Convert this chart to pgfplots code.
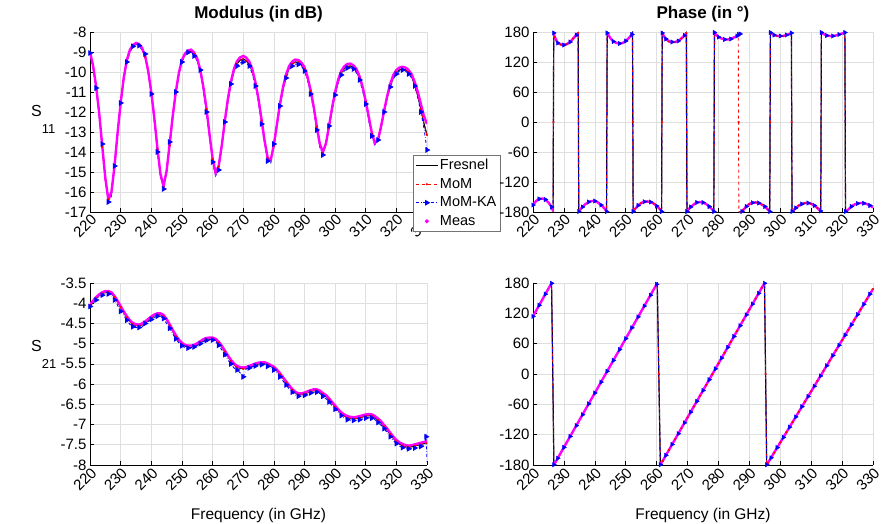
\documentclass[border=0pt]{standalone}
\usepackage{fontspec}
\setmainfont{Liberation Sans}
\usepackage{pgfplots}
\usepackage{pgfplotstable}
\pgfplotsset{compat=1.18}
\definecolor{mmag}{RGB}{255,0,255}
\definecolor{mblue}{RGB}{0,0,255}
\definecolor{mred}{RGB}{255,0,0}
\definecolor{mgrid}{RGB}{223,223,223}

% S11 modulus (dB)
\pgfplotstableread{
f fres momka meas
220 -9.03 -9.05 -9.00
221 -9.70 -9.75 -9.68
222 -10.75 -10.80 -10.72
223 -12.10 -12.20 -12.05
224 -13.74 -13.60 -13.70
225 -15.33 -15.35 -15.30
226 -16.36 -16.50 -16.40
227 -16.04 -16.20 -16.00
228 -14.74 -14.70 -14.70
229 -13.10 -13.00 -13.05
230 -11.59 -11.55 -11.55
231 -10.38 -10.40 -10.30
232 -9.48 -9.50 -9.42
233 -8.96 -9.05 -8.90
234 -8.70 -8.72 -8.65
235 -8.60 -8.62 -8.55
236 -8.65 -8.68 -8.60
237 -8.85 -8.90 -8.80
238 -9.25 -9.10 -9.20
239 -10.00 -10.05 -9.95
240 -11.03 -11.10 -11.00
241 -12.35 -12.50 -12.30
242 -13.85 -14.00 -13.80
243 -15.15 -15.20 -15.10
244 -15.73 -15.85 -15.70
245 -14.98 -14.90 -14.95
246 -13.67 -13.50 -13.60
247 -12.25 -12.20 -12.20
248 -11.05 -11.00 -11.00
249 -10.11 -10.10 -10.05
250 -9.46 -9.50 -9.40
251 -9.14 -9.10 -9.08
252 -8.99 -9.02 -8.92
253 -8.95 -8.98 -8.88
254 -9.10 -9.20 -9.03
255 -9.39 -9.45 -9.33
256 -9.95 -9.90 -9.90
257 -10.78 -10.90 -10.75
258 -11.85 -12.00 -11.80
259 -13.13 -13.30 -13.10
260 -14.34 -14.50 -14.30
261 -15.08 -15.20 -15.05
262 -14.73 -14.90 -14.70
263 -13.73 -13.70 -13.68
264 -12.52 -12.50 -12.45
265 -11.43 -11.50 -11.35
266 -10.57 -10.60 -10.48
267 -9.94 -10.00 -9.84
268 -9.58 -9.70 -9.45
269 -9.41 -9.55 -9.27
270 -9.35 -9.50 -9.20
271 -9.43 -9.55 -9.28
272 -9.61 -9.70 -9.48
273 -9.98 -10.10 -9.88
274 -10.59 -10.70 -10.52
275 -11.41 -11.50 -11.35
276 -12.42 -12.60 -12.38
277 -13.48 -13.60 -13.45
278 -14.29 -14.45 -14.30
279 -14.40 -14.55 -14.40
280 -13.70 -13.60 -13.65
281 -12.69 -12.60 -12.62
282 -11.68 -11.70 -11.60
283 -10.85 -10.90 -10.76
284 -10.21 -10.30 -10.12
285 -9.81 -9.90 -9.70
286 -9.60 -9.70 -9.48
287 -9.50 -9.60 -9.38
288 -9.52 -9.62 -9.40
289 -9.64 -9.70 -9.53
290 -9.86 -9.95 -9.76
291 -10.32 -10.40 -10.24
292 -10.96 -11.10 -10.90
293 -11.78 -11.90 -11.72
294 -12.73 -12.90 -12.70
295 -13.60 -13.75 -13.58
296 -14.05 -14.15 -14.00
297 -13.62 -13.50 -13.58
298 -12.79 -12.70 -12.72
299 -11.88 -11.90 -11.80
300 -11.09 -11.15 -11.00
301 -10.48 -10.55 -10.38
302 -10.05 -10.15 -9.95
303 -9.83 -9.95 -9.72
304 -9.72 -9.80 -9.60
305 -9.70 -9.78 -9.58
306 -9.79 -9.85 -9.67
307 -9.96 -10.05 -9.86
308 -10.30 -10.40 -10.22
309 -10.81 -10.95 -10.75
310 -11.48 -11.60 -11.45
311 -12.29 -12.45 -12.25
312 -13.07 -13.20 -13.05
313 -13.58 -13.70 -13.55
314 -13.43 -13.40 -13.40
315 -12.80 -12.75 -12.72
316 -12.02 -12.00 -11.93
317 -11.29 -11.30 -11.20
318 -10.70 -10.75 -10.60
319 -10.27 -10.35 -10.15
320 -10.02 -10.10 -9.90
321 -9.90 -9.95 -9.78
322 -9.85 -9.90 -9.74
323 -9.89 -9.95 -9.78
324 -10.01 -10.10 -9.90
325 -10.24 -10.30 -10.12
326 -10.64 -10.70 -10.50
327 -11.18 -11.30 -11.00
328 -11.85 -12.00 -11.60
329 -12.57 -12.80 -12.20
330 -13.15 -13.90 -12.60
}\tlmod

% S11 phase (deg)
\pgfplotstableread{
f fres mom meas
220 -166 -166 -166
221 -158 -158 -158
222 -154 -154 -154
223 -153 -153 -153
224 -155 -155 -155
225 -161 -161 -161
226 -170 -170 -170
226.5 -178 -178 -178
226.6 0 0 nan
226.7 178 178 178
227 170 170 170
228 158 158 158
229 155 155 155
230 154 154 154
231 156 156 156
232 160 160 160
233 167 167 167
234 174 174 174
234.6 178 178 178
234.7 0 0 nan
234.8 -179 -179 -179
235 -177 -177 -177
236 -170 -170 -170
237 -164 -164 -164
238 -160 -160 -160
239 -158 -158 -158
240 -158 -158 -158
241 -161 -161 -161
242 -166 -166 -166
243 -172 -172 -172
243.8 -179 -179 -179
243.9 0 0 nan
244 178 178 178
245 168 168 168
246 161 161 161
247 158 158 158
248 157 157 157
249 158 158 158
250 162 162 162
251 168 168 168
252 175 175 175
252.2 178 178 178
252.3 0 0 nan
252.4 -179 -179 -179
253 -174 -174 -174
254 -167 -167 -167
255 -162 -162 -162
256 -159.5 -159.5 -159.5
257 -159 -159 -159
258 -160 -160 -160
259 -163 -163 -163
260 -168 -168 -168
261 -174 -174 -174
261.6 -179 -179 -179
261.7 0 0 nan
261.8 178 178 178
262 175 175 175
263 166 166 166
264 161 161 161
265 160 160 160
266 160 160 160
267 162 162 162
268 167 167 167
269 173 173 173
269.6 178 178 178
269.7 0 0 nan
269.8 -179 -179 -179
270 -177 -177 -177
271 -170 -170 -170
272 -165 -165 -165
273 -161 -161 -161
274 -160 -160 -160
275 -161 -161 -161
276 -164 -164 -164
277 -169 -169 -169
278 -175 -175 -175
278.5 -179 -179 -179
278.6 0 0 nan
278.7 179 179 179
279 176 176 176
280 170 170 170
281 167 167 167
282 165 165 165
283 165 165 165
284 166 166 166
285 169 169 169
286 172 172 172
286.4 174 174 174
286.5 175 0 175
286.6 175.5 -179.5 175.5
287 176 -180 176
287.4 178 -180 178
287.5 nan -180 nan
287.6 -179 -179 -179
288 -176 -176 -176
289 -169 -169 -169
290 -164 -164 -164
291 -161.5 -161.5 -161.5
292 -161 -161 -161
293 -162 -162 -162
294 -165 -165 -165
295 -169 -169 -169
296 -175 -175 -175
296.6 -179 -179 -179
296.7 0 0 nan
296.8 179 179 179
297 177 177 177
298 174 174 174
299 172 172 172
300 172 172 172
301 172 172 172
302 174 174 174
303 176 176 176
303.6 178 178 178
303.7 0 0 nan
303.8 -179 -179 -179
304 -178 -178 -178
305 -172 -172 -172
306 -167 -167 -167
307 -164 -164 -164
308 -162 -162 -162
309 -162 -162 -162
310 -163.5 -163.5 -163.5
311 -167 -167 -167
312 -172 -172 -172
313 -178 -178 -178
313.1 -179 -179 -179
313.2 0 0 nan
313.3 179 179 179
314 176 176 176
315 173 173 173
316 172 172 172
317 172 172 172
318 173 173 173
319 175 175 175
320 177 177 177
320.9 179 179 179
321 0 0 nan
321.1 -179 -179 -179
322 -175 -175 -175
323 -169 -169 -169
324 -165 -165 -165
325 -163 -163 -163
326 -162 -162 -162
327 -162.5 -162.5 -162.5
328 -164 -164 -164
329 -167 -167 -167
330 -171 -171 -171
}\trphase

% S21 modulus (dB)
\pgfplotstableread{
f fres momka meas
220 -4.05 -4.08 -4.02
221 -3.97 -4.00 -3.94
222 -3.88 -3.92 -3.85
223 -3.81 -3.84 -3.78
224 -3.76 -3.80 -3.73
225 -3.73 -3.77 -3.70
226 -3.73 -3.77 -3.70
227 -3.76 -3.80 -3.73
228 -3.85 -3.92 -3.82
229 -3.97 -4.05 -3.94
230 -4.10 -4.20 -4.07
231 -4.23 -4.30 -4.20
232 -4.35 -4.42 -4.32
233 -4.45 -4.52 -4.42
234 -4.52 -4.58 -4.49
235 -4.55 -4.60 -4.52
236 -4.56 -4.60 -4.53
237 -4.53 -4.58 -4.50
238 -4.48 -4.50 -4.45
239 -4.42 -4.45 -4.39
240 -4.36 -4.40 -4.33
241 -4.31 -4.35 -4.28
242 -4.28 -4.32 -4.25
243 -4.28 -4.32 -4.25
244 -4.32 -4.38 -4.29
245 -4.42 -4.50 -4.39
246 -4.55 -4.62 -4.52
247 -4.69 -4.76 -4.66
248 -4.82 -4.88 -4.79
249 -4.93 -4.98 -4.90
250 -5.01 -5.05 -4.98
251 -5.06 -5.10 -5.03
252 -5.08 -5.11 -5.05
253 -5.08 -5.10 -5.05
254 -5.06 -5.08 -5.03
255 -5.02 -5.04 -4.99
256 -4.97 -5.00 -4.94
257 -4.92 -4.95 -4.89
258 -4.89 -4.92 -4.86
259 -4.88 -4.90 -4.85
260 -4.88 -4.91 -4.85
261 -4.91 -4.95 -4.88
262 -4.98 -5.04 -4.95
263 -5.08 -5.15 -5.05
264 -5.20 -5.27 -5.17
265 -5.32 -5.40 -5.29
266 -5.43 -5.50 -5.40
267 -5.52 -5.60 -5.49
268 -5.58 -5.65 -5.55
269 -5.61 -5.72 -5.58
270 -5.62 -5.82 -5.59
271 -5.61 -5.62 -5.58
272 -5.58 -5.60 -5.55
273 -5.55 -5.57 -5.52
274 -5.52 -5.55 -5.49
275 -5.50 -5.53 -5.47
276 -5.49 -5.52 -5.46
277 -5.49 -5.52 -5.46
278 -5.52 -5.56 -5.49
279 -5.56 -5.60 -5.53
280 -5.60 -5.65 -5.57
281 -5.67 -5.73 -5.64
282 -5.76 -5.82 -5.73
283 -5.86 -5.92 -5.83
284 -5.96 -6.02 -5.93
285 -6.06 -6.12 -6.03
286 -6.15 -6.20 -6.12
287 -6.22 -6.27 -6.19
288 -6.26 -6.30 -6.23
289 -6.26 -6.30 -6.23
290 -6.24 -6.28 -6.21
291 -6.21 -6.25 -6.18
292 -6.18 -6.22 -6.15
293 -6.16 -6.20 -6.13
294 -6.16 -6.20 -6.13
295 -6.19 -6.23 -6.16
296 -6.25 -6.30 -6.22
297 -6.30 -6.36 -6.27
298 -6.38 -6.44 -6.35
299 -6.47 -6.53 -6.44
300 -6.56 -6.62 -6.53
301 -6.65 -6.70 -6.62
302 -6.73 -6.78 -6.70
303 -6.79 -6.84 -6.75
304 -6.83 -6.88 -6.79
305 -6.85 -6.90 -6.81
306 -6.86 -6.90 -6.82
307 -6.85 -6.89 -6.81
308 -6.83 -6.88 -6.79
309 -6.81 -6.86 -6.77
310 -6.79 -6.84 -6.75
311 -6.78 -6.83 -6.74
312 -6.79 -6.84 -6.75
313 -6.83 -6.88 -6.79
314 -6.89 -6.95 -6.85
315 -6.96 -7.02 -6.92
316 -7.05 -7.10 -7.01
317 -7.14 -7.20 -7.10
318 -7.24 -7.30 -7.20
319 -7.34 -7.40 -7.30
320 -7.42 -7.47 -7.38
321 -7.48 -7.53 -7.44
322 -7.52 -7.57 -7.48
323 -7.55 -7.60 -7.51
324 -7.56 -7.60 -7.52
325 -7.55 -7.60 -7.51
326 -7.53 -7.58 -7.49
327 -7.51 -7.56 -7.47
328 -7.49 -7.54 -7.45
329 -7.47 -7.52 -7.43
329.7 -7.46 -7.30 -7.42
330 -7.46 -7.92 -7.42
}\blmod

% S21 phase (deg)
\pgfplotstableread{
f fres meas
220 114 114
221 125 125
222 136 136
223 147 147
224 158 158
225 169 169
226 179.5 179.5
226.4 0 nan
226.75 -179.5 -179.5
227 -177.3 -177.3
228 -166.6 -166.6
229 -155.8 -155.8
230 -145.1 -145.1
231 -134.3 -134.3
232 -123.6 -123.6
233 -112.8 -112.8
234 -102.1 -102.1
235 -91.3 -91.3
236 -80.6 -80.6
237 -69.8 -69.8
238 -59.1 -59.1
239 -48.3 -48.3
240 -37.6 -37.6
241 -26.8 -26.8
242 -16.1 -16.1
243 -5.3 -5.3
244 5.4 5.4
245 16.2 16.2
246 26.9 26.9
247 37.7 37.7
248 48.4 48.4
249 59.2 59.2
250 69.9 69.9
251 80.7 80.7
252 91.4 91.4
253 102.2 102.2
254 112.9 112.9
255 123.7 123.7
256 134.4 134.4
257 145.2 145.2
258 155.9 155.9
259 166.7 166.7
260 177.4 177.4
260.2 179.5 179.5
260.7 0 nan
261.2 -179.5 -179.5
262 -171.5 -171.5
263 -160.8 -160.8
264 -150.1 -150.1
265 -139.4 -139.4
266 -128.7 -128.7
267 -118.1 -118.1
268 -107.4 -107.4
269 -96.7 -96.7
270 -86.0 -86.0
271 -75.3 -75.3
272 -64.7 -64.7
273 -54.0 -54.0
274 -43.3 -43.3
275 -32.6 -32.6
276 -21.9 -21.9
277 -11.3 -11.3
278 -0.6 -0.6
279 10.1 10.1
280 20.8 20.8
281 31.5 31.5
282 42.1 42.1
283 52.8 52.8
284 63.5 63.5
285 74.2 74.2
286 84.9 84.9
287 95.5 95.5
288 106.2 106.2
289 116.9 116.9
290 127.6 127.6
291 138.3 138.3
292 148.9 148.9
293 159.6 159.6
294 170.3 170.3
294.9 179.5 179.5
295.25 0 nan
295.6 -179.5 -179.5
296 -176.0 -176.0
297 -165.8 -165.8
298 -155.7 -155.7
299 -145.6 -145.6
300 -135.5 -135.5
301 -125.4 -125.4
302 -115.2 -115.2
303 -105.1 -105.1
304 -95.0 -95.0
305 -84.9 -84.9
306 -74.8 -74.8
307 -64.6 -64.6
308 -54.5 -54.5
309 -44.4 -44.4
310 -34.3 -34.3
311 -24.2 -24.2
312 -14.0 -14.0
313 -3.9 -3.9
314 6.2 6.2
315 16.3 16.3
316 26.4 26.4
317 36.6 36.6
318 46.7 46.7
319 56.8 56.8
320 66.9 66.9
321 77.0 77.0
322 87.2 87.2
323 97.3 97.3
324 107.4 107.4
325 117.5 117.5
326 127.6 127.6
327 137.8 137.8
328 147.9 147.9
329 158.0 158.0
330 168.1 168.1
}\brphase

\newcommand{\lgf}{\fontsize{14.5}{16}\selectfont}

\pgfplotsset{
  panel/.style={
    scale only axis,
    anchor=south west,
    axis lines=left,
    axis line style={black, line width=0.6pt, -},
    tick align=inside,
    major tick length=4pt,
    tick style={black, line width=0.6pt},
    grid=major,
    major grid style={mgrid, line width=0.6pt},
    xmin=220, xmax=330,
    xtick={220,230,...,330},
    xticklabel style={rotate=45, anchor=north east, inner sep=1pt, font=\fontsize{15}{17}\selectfont},
    yticklabel style={font=\fontsize{15}{17}\selectfont},
    /pgf/number format/assume math mode=true,
    unbounded coords=jump,
    title style={font=\bfseries\fontsize{17}{19}\selectfont, at={(0.5,1)}, anchor=base, yshift=7pt},
    xlabel style={font=\fontsize{15.5}{17}\selectfont, at={(0.5,0)}, anchor=base, yshift=-55pt},
    ylabel style={font=\fontsize{16}{18}\selectfont, at={(0,0.5)}, rotate=-90, anchor=base west, inner sep=0pt, xshift=-59pt, yshift=5pt},
    legend image code/.code={\draw[mark repeat=2,mark phase=2] plot coordinates {(0pt,0pt) (11pt,0pt) (22pt,0pt)};},
  },
  fresnel/.style={black, line width=1.2pt, mark=none},
  momst/.style={mred, dashed, line width=0.9pt, mark=*, mark size=0.6pt, mark repeat=2, mark options={solid}},
  momkast/.style={mblue, dash dot, line width=0.9pt, mark=triangle*, mark size=2.5pt, mark repeat=2, mark options={solid, rotate=-90, fill=mblue}},
  momkaline/.style={mblue, dash dot, line width=0.9pt, mark=none},
  momkamarks/.style={mblue, only marks, mark=triangle*, mark size=2.5pt, mark repeat=2, mark options={solid, rotate=-90, fill=mblue}},
  measst/.style={mmag, line width=2.4pt, mark=none},
}

\begin{document}
\begin{tikzpicture}
\useasboundingbox (0,0) rectangle (884pt,524pt);

% Top left: S11 modulus
\begin{axis}[panel, at={(90pt,312pt)}, width=337pt, height=180pt,
  ymin=-17, ymax=-8, ytick={-17,-16,...,-8},
  title={Modulus (in dB)},
  ylabel={S\raisebox{-17pt}{\fontsize{13}{15}\selectfont 11}},
  legend style={at={(0.9585,0.3167)}, anchor=north west, draw=black!55, line width=0.5pt, fill=white,
    font=\lgf, inner sep=2pt, row sep=1.5pt,
    nodes={font=\lgf, inner sep=1.5pt, text height=11pt, text depth=3pt}},
  legend cell align=left]
\addplot[fresnel] table[x=f,y=fres]{\tlmod};
\addplot[momst] table[x=f,y=fres]{\tlmod};
\addplot[momkast] table[x=f,y=momka]{\tlmod};
\addplot[measst, legend image code/.code={\fill[mmag] (11pt,0pt) circle (0.6pt);}] table[x=f,y=meas]{\tlmod};
\legend{\lgf Fresnel,\lgf MoM,\lgf MoM-KA,\lgf Meas}
\end{axis}

% Top right: S11 phase
\begin{axis}[panel, at={(533pt,312pt)}, width=340pt, height=180pt,
  ymin=-180, ymax=180, ytick={-180,-120,...,180},
  title={Phase (in °)}]
\addplot[fresnel] table[x=f,y=fres]{\trphase};
\addplot[momst] table[x=f,y=mom]{\trphase};
\addplot[momkaline] table[x=f,y=fres]{\trphase};
\addplot[momkamarks] table[x=f,y=meas]{\trphase};
\addplot[measst] table[x=f,y=meas]{\trphase};
\end{axis}

% Bottom left: S21 modulus
\begin{axis}[panel, at={(90pt,59pt)}, width=337pt, height=182pt,
  ymin=-8, ymax=-3.5, ytick={-8,-7.5,-7,-6.5,-6,-5.5,-5,-4.5,-4,-3.5},
  xlabel={Frequency (in GHz)},
  ylabel={S\raisebox{-17pt}{\fontsize{13}{15}\selectfont 21}},
  ylabel style={yshift=17pt}]
\addplot[fresnel] table[x=f,y=fres]{\blmod};
\addplot[momst] table[x=f,y=fres]{\blmod};
\addplot[momkast] table[x=f,y=momka]{\blmod};
\addplot[measst] table[x=f,y=meas]{\blmod};
\end{axis}

% Bottom right: S21 phase
\begin{axis}[panel, at={(533pt,59pt)}, width=340pt, height=182pt,
  ymin=-180, ymax=180, ytick={-180,-120,...,180},
  xlabel={Frequency (in GHz)}]
\addplot[fresnel] table[x=f,y=fres]{\brphase};
\addplot[momst] table[x=f,y=fres]{\brphase};
\addplot[momkaline] table[x=f,y=fres]{\brphase};
\addplot[momkamarks] table[x=f,y=meas]{\brphase};
\addplot[measst] table[x=f,y=meas]{\brphase};
\end{axis}
\end{tikzpicture}
\end{document}
